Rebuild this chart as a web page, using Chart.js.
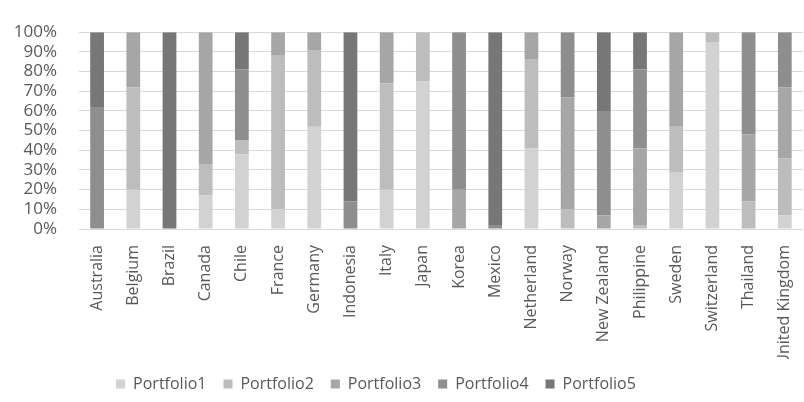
<!DOCTYPE html>
<html>
<head>
<meta charset="utf-8">
<script src="https://cdn.jsdelivr.net/npm/chart.js@4.4.1/dist/chart.umd.min.js"></script>
<style>
  html, body { margin: 0; padding: 0; background: #fff; overflow: hidden; }
  #wrap { position: relative; width: 812px; height: 402px; }
</style>
</head>
<body>
<div id="wrap"><canvas id="chartPortfolios"></canvas></div>
<script>
// Categorias e participação (%) de cada portfolio
const paises = ['Australia', 'Belgium', 'Brazil', 'Canada', 'Chile', 'France', 'Germany', 'Indonesia',
  'Italy', 'Japan', 'Korea', 'Mexico', 'Netherland', 'Norway', 'New Zealand', 'Philippine',
  'Sweden', 'Switzerland', 'Thailand', 'United Kingdom'];

const portfolio1 = [0, 20, 0, 17, 38, 10, 52, 0, 20, 75, 0, 0, 41, 0, 0, 0, 29, 95, 0, 7];
const portfolio2 = [0, 52, 0, 16, 7, 78, 39, 0, 54, 25, 0, 0, 45, 10, 0, 2, 23, 5, 14, 29];
const portfolio3 = [0, 28, 0, 67, 0, 12, 9, 0, 26, 0, 20, 0, 14, 57, 7, 39, 48, 0, 34, 36];
const portfolio4 = [62, 0, 0, 0, 36, 0, 0, 14, 0, 0, 80, 2, 0, 33, 53, 40, 0, 0, 52, 28];
const portfolio5 = [38, 0, 100, 0, 19, 0, 0, 86, 0, 0, 0, 98, 0, 0, 40, 19, 0, 0, 0, 0];

const yTicks = [0, 10, 20, 30, 40, 50, 60, 70, 80, 90, 100];

const cores = ['#d2d2d2', '#bdbdbd', '#a6a6a6', '#8e8e8e', '#777777'];
const corTexto = '#595959';

// desloca a legenda um pouco para a esquerda, como no original
const ajusteLegenda = {
  id: 'ajusteLegenda',
  afterLayout(chart) {
    const lg = chart.legend;
    if (lg) {
      lg.left -= 30;
      lg.right -= 30;
    }
  }
};

const series = [portfolio1, portfolio2, portfolio3, portfolio4, portfolio5];

new Chart(document.getElementById('chartPortfolios'), {
  type: 'bar',
  data: {
    labels: paises,
    datasets: series.map((dados, i) => ({
      label: 'Portfolio' + (i + 1),
      data: dados,
      backgroundColor: cores[i],
      borderWidth: 0,
      barPercentage: 0.76,
      categoryPercentage: 0.5
    }))
  },
  options: {
    responsive: true,
    maintainAspectRatio: false,
    animation: false,
    layout: { padding: { top: 6, left: 0, right: 0, bottom: 0 } },
    plugins: {
      legend: {
        position: 'bottom',
        labels: {
          color: corTexto,
          font: { family: 'Open Sans', size: 16 },
          boxWidth: 9,
          boxHeight: 9,
          padding: 17
        }
      },
      tooltip: { enabled: false }
    },
    scales: {
      x: {
        stacked: true,
        grid: { display: false },
        border: { color: '#d9d9d9' },
        afterFit(scale) { scale.height = 130; },
        ticks: {
          color: corTexto,
          font: { family: 'Open Sans', size: 16 },
          minRotation: 90,
          maxRotation: 90,
          autoSkip: false,
          padding: 8
        }
      },
      y: {
        stacked: true,
        min: 0,
        max: 100,
        afterBuildTicks(axis) {
          axis.ticks = yTicks.map(v => ({ value: v }));
        },
        afterFit(scale) { scale.width = 79; },
        grid: { color: '#d9d9d9', drawTicks: false },
        border: { display: false },
        ticks: {
          color: corTexto,
          font: { family: 'Open Sans', size: 17 },
          autoSkip: false,
          padding: 22,
          callback: v => v + '%'
        }
      }
    }
  },
  plugins: [ajusteLegenda]
});
</script>
</body>
</html>
